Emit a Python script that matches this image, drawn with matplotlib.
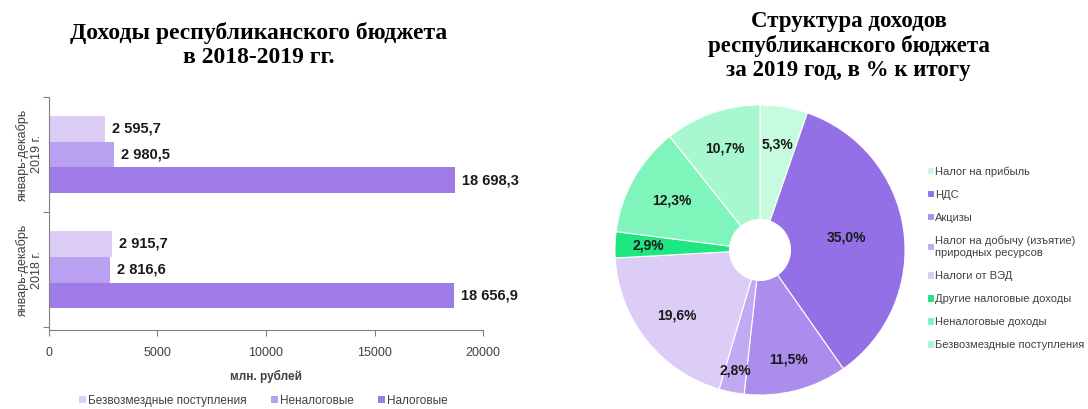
import matplotlib.pyplot as plt
import numpy as np

# bar chart data
periods = ["январь-декабрь\n2018 г.", "январь-декабрь\n2019 г."]
bar_series = ["Безвозмездные поступления", "Неналоговые", "Налоговые"]
bezvozm = [2915.7, 2595.7]
nenalog = [2816.6, 2980.5]
nalog = [18656.9, 18698.3]
bar_colors = ["#dccdf6", "#b9a0f0", "#9f7be8"]

# pie data (clockwise from 12 o'clock)
pie_labels = ["Налог на прибыль", "НДС", "Акцизы",
              "Налог на добычу (изъятие)\nприродных ресурсов", "Налоги от ВЭД",
              "Другие налоговые доходы", "Неналоговые доходы",
              "Безвозмездные поступления"]
pie_values = [5.3, 35.0, 11.5, 2.8, 19.6, 2.9, 12.3, 10.7]
pie_colors = ["#c6fbdf", "#9470e6", "#ac8ded", "#c2aaf3", "#dccdf7",
              "#1ee680", "#80f5bb", "#a8f8cf"]
label_r = [0.74, 0.6, 0.78, 0.85, 0.73, 0.77, 0.70, 0.74]


def fmt(v):
    s = "{:,.1f}".format(v)
    return s.replace(",", " ").replace(".", ",")


plt.rcParams["font.family"] = ["Liberation Sans", "DejaVu Sans"]
fig = plt.figure(figsize=(10.88, 4.09), dpi=100)

# ---- bar chart ----
ax = fig.add_axes([0.045, 0.193, 0.399, 0.570])
y = np.arange(len(periods))
h = 0.225
groups = [bezvozm, nenalog, nalog]
for i, (vals, col, name) in enumerate(zip(groups, bar_colors, bar_series)):
    bars = ax.barh(y + (1 - i) * h, vals, height=h, color=col, label=name)
    ax.bar_label(bars, labels=[fmt(v) for v in vals], padding=5,
                 fontsize=10.5, fontweight="bold", color="#1a1a1a")

ax.set_xlim(0, 20000)
ax.set_ylim(-0.525, 1.42)
ax.set_xticks([0, 5000, 10000, 15000, 20000])
ax.set_yticks([-0.5, 0.5, 1.5])
ax.set_yticklabels([])
ax.set_yticks(y, minor=True)
ax.set_yticklabels(periods, minor=True, rotation=90, va="center",
                   ha="center", fontsize=9, color="#404040")
ax.tick_params(axis="y", which="minor", length=0, pad=14)
ax.tick_params(axis="y", which="major", length=4, color="#808080")
ax.tick_params(axis="x", length=4, color="#808080", labelsize=9,
               labelcolor="#404040", pad=8)
for s in ["top", "right"]:
    ax.spines[s].set_visible(False)
for s in ["left", "bottom"]:
    ax.spines[s].set_color("#808080")
ax.set_xlabel("млн. рублей", fontsize=8.5, fontweight="bold",
              color="#404040", labelpad=8)
handles, labels = ax.get_legend_handles_labels()
fig.legend(handles, labels, loc="center", bbox_to_anchor=(0.242, 0.02),
           ncol=3, frameon=False, fontsize=8.5, handlelength=0.6,
           handleheight=0.6, handletextpad=0.2, columnspacing=2.0,
           labelcolor="#404040", borderpad=0.1)

fig.text(0.238, 0.89, "Доходы республиканского бюджета\nв 2018-2019 гг.",
         ha="center", va="center", fontsize=17, fontweight="bold",
         family="Liberation Serif", linespacing=1.2)

# ---- pie chart ----
pax = fig.add_axes([(760 - 150) / 1088, (409 - 250 - 150) / 409,
                    300 / 1088, 300 / 409])
wedges, _ = pax.pie(pie_values, colors=pie_colors, startangle=90,
                    counterclock=False, radius=0.967,
                    wedgeprops=dict(width=0.967 * 0.79, linewidth=0.8,
                                    edgecolor="white"))
for w, v, r in zip(wedges, pie_values, label_r):
    ang = np.deg2rad((w.theta1 + w.theta2) / 2)
    pax.text(r * 0.967 * np.cos(ang), r * 0.967 * np.sin(ang),
             fmt(v) + "%", ha="center", va="center", fontsize=10,
             fontweight="bold", color="#1a1a1a")
pax.set_xlim(-1, 1)
pax.set_ylim(-1, 1)
pax.set_aspect("equal")

fig.legend(wedges, pie_labels, loc="upper left",
           bbox_to_anchor=(0.848, 0.604), frameon=False, fontsize=8,
           handlelength=0.6, handleheight=0.6, handletextpad=0.15,
           labelspacing=1.17, labelcolor="#404040", borderpad=0.2,
           borderaxespad=0.2)

fig.text(0.78, 0.888,
         "Структура доходов\nреспубликанского бюджета\nза 2019 год, в % к итогу",
         ha="center", va="center", fontsize=16.5, fontweight="bold",
         family="Liberation Serif", linespacing=1.2)

fig.savefig("out.png", dpi=100)
